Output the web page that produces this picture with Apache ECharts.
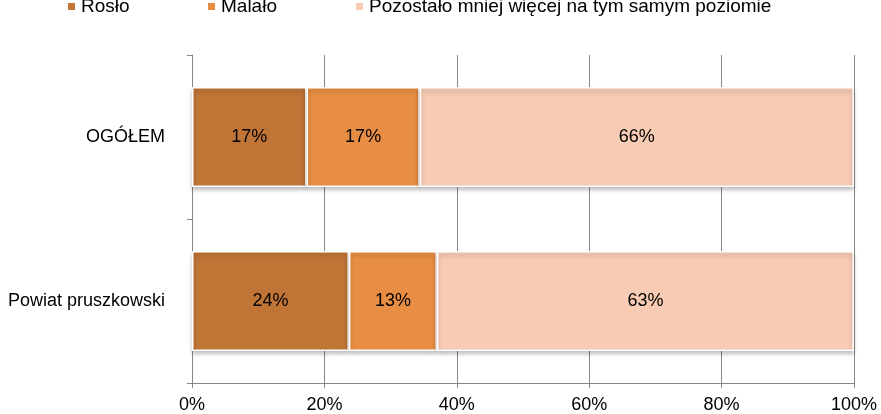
<!DOCTYPE html>
<html><head><meta charset="utf-8">
<script src="https://cdn.jsdelivr.net/npm/echarts@6/dist/echarts.min.js"></script>
<style>html,body{margin:0;padding:0;background:#fff}#c{width:881px;height:414px}</style>
</head><body><div id="c"></div>
<script>
var categories = ['Powiat pruszkowski', 'OGÓŁEM'];
var seriesNames = ['Rosło', 'Malało', 'Pozostało mniej więcej na tym samym poziomie'];
var rosloValues = [23.7, 17.3];
var malaloValues = [13.3, 17.1];
var pozostaloValues = [63.0, 65.6];
var xTicks = [0, 20, 40, 60, 80, 100];
var colors = ['#C07537', '#E88E44', '#F8CBB4'];
var legendLeft = [66, 206, 354];

var chart = echarts.init(document.getElementById('c'));
var font = 'Liberation Sans, Arial, sans-serif';
var dataSets = [rosloValues, malaloValues, pozostaloValues];
var series = seriesNames.map(function (n, i) {
  return {
    name: n, type: 'bar', stack: 'total', barWidth: 100,
    data: dataSets[i],
    itemStyle: { color: colors[i], borderColor: '#fff', borderWidth: 1.5,
      shadowColor: 'rgba(0,0,0,0.25)', shadowBlur: 4, shadowOffsetY: 3 },
    label: { show: true, position: 'inside', color: '#000', fontFamily: font, fontSize: 18,
      formatter: function (p) { return Math.round(p.value) + '%'; } }
  };
});
var legends = seriesNames.map(function (n, i) {
  return {
    data: [n], left: legendLeft[i], top: -3, padding: 0, icon: 'rect', itemWidth: 9, itemHeight: 9,
    textStyle: { fontFamily: font, fontSize: 19, color: '#000' }
  };
});
chart.setOption({
  animation: false,
  color: colors,
  legend: legends,
  grid: { left: 192, right: 27, top: 55, bottom: 28, containLabel: false },
  xAxis: {
    type: 'value', min: 0, max: 100, interval: 20,
    axisLine: { show: true, lineStyle: { color: '#868686' } },
    axisTick: { show: true, length: 5, lineStyle: { color: '#868686' } },
    splitLine: { show: true, lineStyle: { color: '#868686' } },
    axisLabel: { fontFamily: font, fontSize: 18, color: '#000', margin: 13,
      formatter: function (v) { return xTicks.indexOf(v) >= 0 ? v + '%' : ''; } }
  },
  yAxis: {
    type: 'category', data: categories,
    axisLine: { show: true, lineStyle: { color: '#868686' } },
    axisTick: { show: true, length: 5, lineStyle: { color: '#868686' } },
    axisLabel: { fontFamily: font, fontSize: 18, color: '#000', margin: 27 }
  },
  series: series
});
</script></body></html>
